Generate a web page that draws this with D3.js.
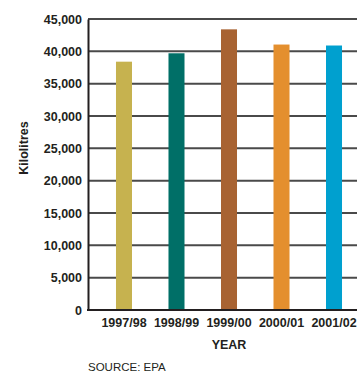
<!DOCTYPE html>
<html>
<head>
<meta charset="utf-8">
<script src="https://cdn.jsdelivr.net/npm/d3@7"></script>
<style>
  html, body { margin: 0; padding: 0; background: #fff; overflow: hidden; }
  svg { display: block; }
  text { font-family: "Liberation Sans", Arial, Helvetica, sans-serif; fill: #231f20; }
</style>
</head>
<body>
<svg id="chart" width="357" height="372"></svg>
<script>
// Annual volume, kilolitres
const years = ["1997/98", "1998/99", "1999/00", "2000/01", "2001/02"];
const volumes = [38400, 39700, 43400, 41050, 40900];
const barColors = ["#c6b24f", "#006f67", "#a86332", "#e48f2e", "#00a0cf"];
const yTicks = [0, 5000, 10000, 15000, 20000, 25000, 30000, 35000, 40000, 45000];

const svg = d3.select("#chart");
const plotLeft = 88, plotTop = 19, plotBottom = 310, plotRight = 370;

const x = d3.scaleBand()
  .domain(years)
  .range([plotLeft, plotRight])
  .paddingInner(0.695)
  .paddingOuter(0.533);

const y = d3.scaleLinear()
  .domain([0, 45000])
  .range([plotBottom, plotTop]);

// horizontal gridlines
svg.append("g")
  .selectAll("line")
  .data(yTicks.filter(d => d > 0))
  .join("line")
  .attr("x1", plotLeft).attr("x2", plotRight)
  .attr("y1", d => y(d)).attr("y2", d => y(d))
  .attr("stroke", "#4a4a4a")
  .attr("stroke-width", 2);

// bars
svg.append("g")
  .selectAll("rect")
  .data(years.map((yr, i) => ({ yr, v: volumes[i], c: barColors[i] })))
  .join("rect")
  .attr("x", d => x(d.yr))
  .attr("width", x.bandwidth())
  .attr("y", d => y(d.v))
  .attr("height", d => y(0) - y(d.v))
  .attr("fill", d => d.c);

// y axis
const yAxis = svg.append("g")
  .attr("transform", `translate(${plotLeft},0)`)
  .call(d3.axisLeft(y).tickValues(yTicks).tickFormat(d3.format(",")).tickSize(0).tickPadding(6));
yAxis.select(".domain").attr("stroke", "#231f20").attr("stroke-width", 2);
yAxis.selectAll("text")
  .attr("font-size", "12.5px").attr("font-weight", "bold").attr("fill", "#231f20")
  .attr("font-family", "Liberation Sans, Arial, sans-serif");

// x axis
const xAxis = svg.append("g")
  .attr("transform", `translate(0,${plotBottom})`)
  .call(d3.axisBottom(x).tickSize(0).tickPadding(8));
xAxis.select(".domain").attr("stroke", "#231f20").attr("stroke-width", 2)
  .attr("d", `M${plotLeft - 1},0H${plotRight}`);
xAxis.selectAll("text")
  .attr("font-size", "12.5px").attr("font-weight", "bold").attr("fill", "#231f20")
  .attr("font-family", "Liberation Sans, Arial, sans-serif");

// axis titles
svg.append("text")
  .attr("transform", `translate(28,148) rotate(-90)`)
  .attr("text-anchor", "middle")
  .attr("font-size", "12.5px").attr("font-weight", "bold")
  .text("Kilolitres");

svg.append("text")
  .attr("x", x("1999/00") + x.bandwidth() / 2)
  .attr("y", 349)
  .attr("text-anchor", "middle")
  .attr("font-size", "12.5px").attr("font-weight", "bold")
  .text("YEAR");

svg.append("text")
  .attr("x", 88)
  .attr("y", 371)
  .attr("font-size", "11.5px")
  .attr("fill", "#333")
  .text("SOURCE: EPA");
</script>
</body>
</html>
